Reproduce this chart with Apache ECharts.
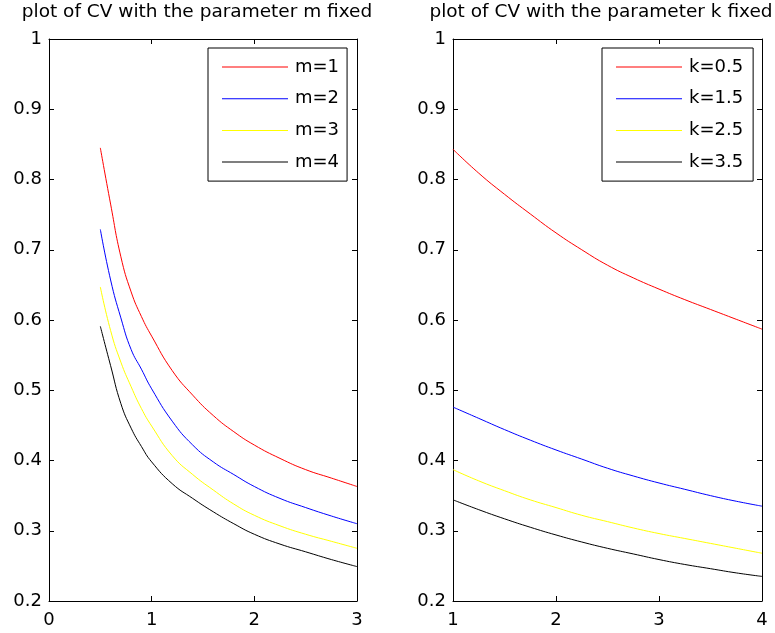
<!DOCTYPE html>
<html>
<head>
<meta charset="utf-8">
<script src="https://cdn.jsdelivr.net/npm/echarts@6/dist/echarts.min.js"></script>
<style>
html,body{margin:0;padding:0;background:#fff;}
#chart{width:775px;height:633px;}
</style>
</head>
<body>
<div id="chart"></div>
<script>
// ---- Data ----
var leftTitle = 'plot of CV with the parameter m fixed';
var rightTitle = 'plot of CV with the parameter k fixed';

// Left panel: x = k, one curve per fixed m
var kValues = [0.5, 0.6, 0.7, 0.8, 0.9, 1.0, 1.2, 1.4, 1.6, 1.8, 2.0, 2.25, 2.5, 2.75, 3.0];
var leftNames = ['m=1', 'm=2', 'm=3', 'm=4'];
var cvM1 = [0.845, 0.765, 0.690, 0.640, 0.605, 0.577, 0.528, 0.493, 0.464, 0.441, 0.422, 0.403, 0.387, 0.375, 0.363];
var cvM2 = [0.729, 0.657, 0.603, 0.558, 0.530, 0.502, 0.456, 0.422, 0.398, 0.380, 0.363, 0.346, 0.333, 0.321, 0.310];
var cvM3 = [0.647, 0.585, 0.540, 0.505, 0.474, 0.449, 0.407, 0.380, 0.358, 0.338, 0.322, 0.307, 0.295, 0.285, 0.275];
var cvM4 = [0.591, 0.535, 0.481, 0.446, 0.420, 0.398, 0.367, 0.346, 0.327, 0.310, 0.295, 0.281, 0.270, 0.259, 0.249];

// Right panel: x = m, one curve per fixed k
var mValues = [1, 1.25, 1.5, 1.75, 2, 2.25, 2.5, 2.75, 3, 3.25, 3.5, 3.75, 4];
var rightNames = ['k=0.5', 'k=1.5', 'k=2.5', 'k=3.5'];
var cvK05 = [0.843, 0.809, 0.779, 0.751, 0.724, 0.700, 0.678, 0.660, 0.644, 0.629, 0.615, 0.601, 0.587];
var cvK15 = [0.476, 0.460, 0.444, 0.429, 0.415, 0.402, 0.389, 0.378, 0.368, 0.359, 0.350, 0.342, 0.335];
var cvK25 = [0.387, 0.371, 0.357, 0.344, 0.333, 0.322, 0.313, 0.304, 0.296, 0.289, 0.282, 0.275, 0.268];
var cvK35 = [0.344, 0.330, 0.317, 0.305, 0.294, 0.284, 0.275, 0.267, 0.259, 0.252, 0.246, 0.240, 0.235];

var yTickMin = 0.2, yTickMax = 1, yTickStep = 0.1;
var leftXMin = 0, leftXMax = 3, rightXMin = 1, rightXMax = 4, xTickStep = 1;

var colors = ['#ff0000', '#0000ff', '#ffff00', '#000000'];

// ---- Build chart ----
var FONT = 'DejaVu Sans';
function pairs(xs, ys) { return xs.map(function (x, i) { return [x, ys[i]]; }); }

function axisBase(extra) {
  var o = {
    type: 'value',
    axisLine: { show: true, onZero: false, lineStyle: { color: '#000', width: 1 } },
    axisTick: { show: true, inside: true, length: 5, lineStyle: { color: '#000' } },
    splitLine: { show: false },
    axisLabel: { show: true, color: '#000', fontFamily: FONT, fontSize: 18 }
  };
  for (var k in extra) o[k] = extra[k];
  return o;
}

var chart = echarts.init(document.getElementById('chart'), null, { renderer: 'canvas' });

var leftSeriesData = [cvM1, cvM2, cvM3, cvM4];
var rightSeriesData = [cvK05, cvK15, cvK25, cvK35];

var series = [];
function addSeries(n, i, xs, ys, axisIdx) {
  series.push({
    name: n, type: 'line', xAxisIndex: axisIdx, yAxisIndex: axisIdx,
    data: pairs(xs, ys),
    symbol: 'none', showSymbol: false, smooth: 0.5,
    lineStyle: { color: colors[i], width: 1 }, itemStyle: { color: colors[i] },
    animation: false
  });
}
leftNames.forEach(function (n, i) { addSeries(n, i, kValues, leftSeriesData[i], 0); });
rightNames.forEach(function (n, i) { addSeries(n, i, mValues, rightSeriesData[i], 2); });

var legendCommon = {
  orient: 'vertical',
  top: 48,
  icon: 'rect',
  backgroundColor: '#fff',
  borderColor: '#000',
  borderWidth: 1,
  borderRadius: 0,
  itemWidth: 66,
  itemHeight: 1,
  itemGap: 13.7,
  lineStyle: { width: 1 },
  textStyle: { color: '#000', fontFamily: FONT, fontSize: 18, lineHeight: 18, padding: [0, 0, 0, 2] },
  selectedMode: false
};

var option = {
  backgroundColor: '#fff',
  animation: false,
  title: [
    { text: leftTitle, left: 197, top: 3, textAlign: 'center', padding: 0,
      textStyle: { color: '#000', fontFamily: FONT, fontSize: 18.5, fontWeight: 'normal' } },
    { text: rightTitle, left: 601, top: 3, textAlign: 'center', padding: 0,
      textStyle: { color: '#000', fontFamily: FONT, fontSize: 18.5, fontWeight: 'normal' } }
  ],
  legend: [
    Object.assign({}, legendCommon, { data: leftNames, left: 208, padding: [10, 8, 10, 14] }),
    Object.assign({}, legendCommon, { data: rightNames, left: 602, padding: [10, 10, 10, 14] })
  ],
  grid: [
    { left: 49, top: 39, width: 308, height: 562, containLabel: false },
    { left: 453, top: 39, width: 309, height: 562, containLabel: false }
  ],
  xAxis: [
    axisBase({ gridIndex: 0, position: 'bottom', min: leftXMin, max: leftXMax, interval: xTickStep,
      axisLabel: { show: true, color: '#000', fontFamily: FONT, fontSize: 18, margin: 10 } }),
    axisBase({ gridIndex: 0, position: 'top', min: leftXMin, max: leftXMax, interval: xTickStep,
      axisLabel: { show: false } }),
    axisBase({ gridIndex: 1, position: 'bottom', min: rightXMin, max: rightXMax, interval: xTickStep,
      axisLabel: { show: true, color: '#000', fontFamily: FONT, fontSize: 18, margin: 10 } }),
    axisBase({ gridIndex: 1, position: 'top', min: rightXMin, max: rightXMax, interval: xTickStep,
      axisLabel: { show: false } })
  ],
  yAxis: [
    axisBase({ gridIndex: 0, position: 'left', min: yTickMin, max: yTickMax, interval: yTickStep,
      axisLabel: { show: true, color: '#000', fontFamily: FONT, fontSize: 18, margin: 7 } }),
    axisBase({ gridIndex: 0, position: 'right', min: yTickMin, max: yTickMax, interval: yTickStep,
      axisLabel: { show: false } }),
    axisBase({ gridIndex: 1, position: 'left', min: yTickMin, max: yTickMax, interval: yTickStep,
      axisLabel: { show: true, color: '#000', fontFamily: FONT, fontSize: 18, margin: 7 } }),
    axisBase({ gridIndex: 1, position: 'right', min: yTickMin, max: yTickMax, interval: yTickStep,
      axisLabel: { show: false } })
  ],
  series: series
};

chart.setOption(option);
</script>
</body>
</html>
